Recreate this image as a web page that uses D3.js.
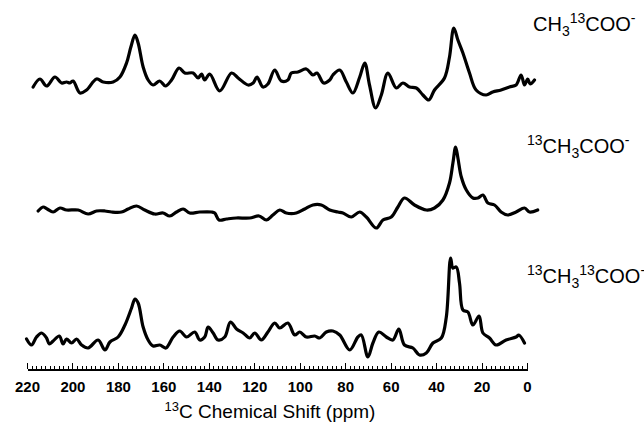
<!DOCTYPE html>
<meta charset="utf-8">
<style>

body {
  margin: 0;
  background: #fff;
}

svg {
  font-family: Arial, "Liberation Sans", sans-serif;
}

.trace {
  fill: none;
  stroke: #000;
  stroke-width: 3.2;
  stroke-linejoin: round;
  stroke-linecap: round;
}

.axis path,
.axis line {
  fill: none;
  stroke: #000;
  shape-rendering: crispEdges;
}

</style>
<body>
<svg id="chart" width="644" height="435"></svg>
<script src="https://cdn.jsdelivr.net/npm/d3@7/dist/d3.min.js"></script>
<script>

// CH3 13COO- (top)
var ppmTop = [217.3, 214.3, 211.4, 207.7, 204.8, 202.6, 201.1, 199.7, 196.7, 193.8,
  189.4, 186.5, 182.1, 179.1, 176.2, 174.3, 172.5, 171.1, 168.9, 166.7,
  164.5, 161.6, 159.1, 156.4, 153.1, 150.6, 146.9, 144.7, 143.2, 141.8,
  139.6, 135.2, 130.0, 127.1, 122.7, 120.5, 118.8, 116.2, 114.0, 111.0,
  108.1, 105.2, 103.7, 100.8, 97.1, 94.2, 92.4, 89.5, 86.8, 85.4,
  82.4, 79.5, 76.6, 73.6, 71.4, 69.3, 66.6, 64.1, 61.2, 57.5,
  54.6, 51.7, 48.7, 45.8, 43.2, 40.7, 36.3, 34.1, 32.2, 30.4,
  28.2, 25.3, 22.4, 18.0, 15.1, 11.4, 7.7, 4.8, 2.6, 1.1,
  -0.3, -1.4, -3.3];
var intTop = [-5, 3, -4, 5, -1, 0, -1, 1, -11, -8,
  3, 0, 0, 5, 19, 35, 47, 39, 15, 2,
  -3, 1, -4, 2, 14, 9, 9, 4, 8, 2,
  8, -9, 9, 4, -3, -1, 5, -5, -2, 12,
  1, 2, 9, 10, 13, 7, 9, -1, 2, 7,
  12, 0, -11, 5, 19, -3, -26, -13, 9, -6,
  -1, -5, -6, -13, -18, -8, 4, 25, 54, 42,
  29, 9, -8, -13, -10, -8, -5, -3, 7, -3,
  3, -2, 2];

// 13CH3COO- (middle)
var ppmMid = [215.1, 212.9, 211.1, 208.5, 205.5, 202.6, 197.5, 193.1, 189.4, 185.7,
  182.8, 178.4, 175.5, 171.8, 168.2, 163.8, 160.1, 157.2, 154.2, 151.3,
  148.4, 144.0, 138.8, 137.4, 135.5, 132.2, 127.9, 122.0, 117.9, 114.7,
  111.8, 108.8, 105.9, 101.5, 97.8, 94.2, 90.5, 86.8, 83.2, 81.0,
  77.3, 73.6, 70.7, 66.3, 63.4, 59.7, 56.8, 53.9, 49.5, 44.3,
  40.7, 37.0, 34.1, 32.6, 31.4, 30.4, 28.9, 26.7, 23.8, 21.6,
  19.4, 17.2, 14.3, 11.4, 8.5, 4.8, 1.1, -1.1, -4.7];
var intMid = [-1, 3, 1, -2, 2, 0, 0, -4, -1, -1,
  -2, -2, 1, 4, 0, -4, -3, -6, -2, 1,
  -3, -2, -2, -3, -10, -9, -8, -8, -6, -10,
  -5, 0, -3, -3, 1, 5, 5, 0, -2, -3,
  -7, -2, -7, -18, -10, -7, 3, 12, 5, 0,
  2, 10, 27, 47, 63, 52, 33, 20, 12, 12,
  15, 7, 5, -2, -5, -2, 2, -2, 0];

// 13CH3 13COO- (bottom)
var ppmBot = [220.2, 218.0, 215.8, 213.6, 211.4, 210.2, 208.5, 205.8, 204.1, 202.6,
  200.4, 198.2, 196.0, 193.1, 188.7, 185.7, 183.5, 179.9, 176.9, 174.0,
  172.5, 171.1, 168.9, 166.7, 164.5, 161.6, 158.9, 155.7, 152.8, 149.8,
  146.2, 144.0, 141.8, 140.3, 138.1, 135.9, 133.0, 130.5, 127.8, 124.9,
  122.0, 119.8, 116.9, 114.0, 111.0, 108.8, 105.2, 102.2, 100.0, 97.1,
  93.4, 91.2, 88.3, 85.4, 82.4, 78.0, 74.4, 72.9, 70.0, 67.8,
  65.2, 61.9, 59.0, 56.4, 53.9, 50.2, 47.3, 44.3, 41.4, 37.7,
  35.5, 33.6, 32.6, 31.1, 29.7, 28.2, 26.0, 23.8, 21.1, 19.4,
  16.5, 13.6, 9.2, 4.8, 3.6, 1.1];
var intBot = [1, -5, 3, 7, 2, -4, -1, 4, -4, 1,
  -3, 1, -5, -8, 0, -10, -2, 3, 15, 32,
  41, 37, 13, 0, -6, -5, -8, 3, 9, 3,
  8, 0, 3, 13, 7, 0, 3, 18, 11, 7,
  2, 7, 0, 8, 17, 12, 17, 5, 8, 3,
  4, 2, 8, 9, 5, -10, 3, 5, -17, -3,
  8, 3, 0, 11, -5, -8, -15, -13, -3, 2,
  23, 82, 72, 73, 57, 30, 28, 15, 24, 7,
  2, -5, 0, 3, 5, -3];

var offsets = [258, 130, 0];
var tickLabels = [220, 200, 180, 160, 140, 120, 100, 80, 60, 40, 20, 0];

var traces = [
  {ppm: ppmTop, val: intTop, off: offsets[0]},
  {ppm: ppmMid, val: intMid, off: offsets[1]},
  {ppm: ppmBot, val: intBot, off: offsets[2]}
];

var svg = d3.select("svg#chart");

var x = d3.scaleLinear().domain([220, 0]).range([27, 527]);
var y = d3.scaleLinear().domain([-60, 340]).range([400, 0]);

var line = d3.line()
    .curve(d3.curveCatmullRom.alpha(0.5))
    .x(d => x(d[0]))
    .y(d => y(d[1]));

svg.selectAll(".trace")
    .data(traces)
  .enter().append("path")
    .attr("class", "trace")
    .attr("d", t => line(t.ppm.map((p, i) => [p, t.val[i] + t.off])));

// axis at the bottom, ticks pointing up
var axisY = 369;

svg.append("g")
    .attr("class", "axis minor")
    .attr("transform", "translate(0," + axisY + ")")
    .call(d3.axisBottom(x).tickValues(d3.range(0, 221, 2)).tickSize(-3).tickFormat(""))
    .select(".domain").remove();

var major = svg.append("g")
    .attr("class", "axis major")
    .attr("transform", "translate(0," + axisY + ")")
    .call(d3.axisBottom(x).tickValues(tickLabels).tickSize(-6).tickSizeOuter(0).tickPadding(12));

major.select(".domain").attr("stroke-width", 2);
major.selectAll("text")
    .style("font-size", "15px")
    .style("font-weight", "bold")
    .attr("fill", "#000");

// axis title
var title = svg.append("text")
    .attr("x", 270)
    .attr("y", 418)
    .attr("text-anchor", "middle")
    .style("font-size", "19px");
title.append("tspan").attr("dy", "-7").style("font-size", "13px").text("13");
title.append("tspan").attr("dy", "7").text("C Chemical Shift (ppm)");

// trace labels
var labelText = [
  [["", "CH"], ["sub", "3"], ["sup", "13"], ["", "COO"], ["sup", "-"]],
  [["sup", "13"], ["", "CH"], ["sub", "3"], ["", "COO"], ["sup", "-"]],
  [["sup", "13"], ["", "CH"], ["sub", "3"], ["sup", "13"], ["", "COO"], ["sup", "-"]]
];
var labelPos = [[533, 31], [527, 153], [527, 283]];

labelText.forEach(function(parts, k) {
  var t = svg.append("text")
      .attr("x", labelPos[k][0])
      .attr("y", labelPos[k][1])
      .style("font-size", "20px");
  var shift = 0;
  parts.forEach(function(p) {
    var target = p[0] == "sup" ? -8 : p[0] == "sub" ? 5 : 0;
    t.append("tspan")
        .attr("dy", target - shift)
        .style("font-size", p[0] ? "14px" : "20px")
        .text(p[1]);
    shift = target;
  });
});

</script>
